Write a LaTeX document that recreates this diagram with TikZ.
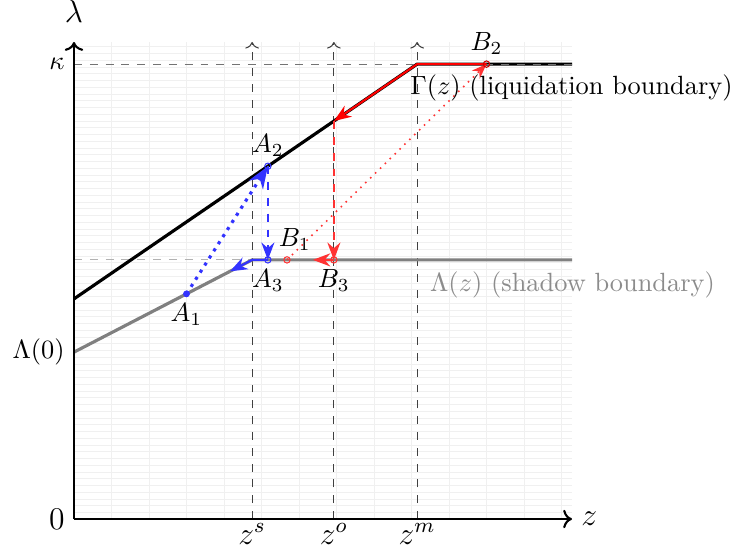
\documentclass[tikz,border=0pt]{standalone}
\usetikzlibrary{arrows.meta}

\begin{document}
\begin{tikzpicture}[x=0.5cm, y=0.5cm, >=Stealth]

  % 参数定义
  \def\zs{4.75}     % z^s
  \def\zo{6.93}     % z^o
  \def\zm{9.15}     % z^m
  \def\kap{12.13}   % kappa
  \def\Lam{6.91}    % 影子边界水平段
  \def\Lzero{4.45}  % Lambda(0)
  \def\Gzero{5.87}  % Gamma(0)
  \def\xmax{13.28}
  \def\ymax{12.72}
  \pgfmathsetmacro{\kG}{(\kap-\Gzero)/\zm}
  \pgfmathsetmacro{\kL}{(\Lam-\Lzero)/\zs}

  \useasboundingbox (-1.973,-0.827) rectangle (17.573,13.84);

  % 各点
  \coordinate (O) at (0,0);
  \coordinate (Xe) at (\xmax,0);
  \coordinate (Ye) at (0,\ymax);
  \coordinate (K0) at (0,\kap);
  \coordinate (K1) at (\xmax,\kap);
  \coordinate (L0) at (0,\Lzero);
  \coordinate (G0) at (0,\Gzero);
  \coordinate (Ls) at (0,\Lam);
  \coordinate (Ks) at (\zs,\Lam);
  \coordinate (Km) at (\zm,\kap);
  \coordinate (Le) at (\xmax,\Lam);
  \coordinate (A1) at (3,{\Lzero+\kL*3});
  \coordinate (A2) at (5.17,{\Gzero+\kG*5.17});
  \coordinate (A3) at (5.17,\Lam);
  \coordinate (A4) at (4.16,{\Lzero+\kL*4.16});
  \coordinate (B1) at (5.68,\Lam);
  \coordinate (B2) at (11,\kap);
  \coordinate (B3) at (\zo,\Lam);
  \coordinate (B4) at (6.37,\Lam);
  \coordinate (Go) at (\zo,{\Gzero+\kG*\zo});

  % 1. 网格
  \draw[black!6, very thin, xstep=1, ystep=0.18] (0,0) grid (\xmax,\ymax);

  % 2. 虚线
  \foreach \z in {\zs,\zo,\zm}
    \draw[black!75, dashed, -To] (\z,0) -- (\z,\ymax);
  \draw[black!30, dashed] (Ls) -- (Ks);

  % 3. 边界
  \draw[black!50, very thick] (L0) -- (Ks) -- (Le);
  \draw[very thick] (G0) -- (Km) -- (K1);
  \draw[black!55, dashed] (K0) -- (K1);

  % 4. 蓝色路径
  \draw[blue!80, very thick, dotted, ->] (A1) -- (A2);
  \draw[blue!80, thick, dashed, ->] (A2) -- (A3);
  \draw[blue!80, thick, ->] (A3) -- (Ks) -- (A4);
  \fill[blue!80] (A1) circle (1.3pt);
  \draw[blue!80] (A2) circle (1.2pt) (A3) circle (1.2pt);

  % 5. 红色路径
  \draw[red!80, semithick, dotted, ->] (B1) -- (B2);
  \draw[red, thick, ->] (B2) -- (Km) -- (Go);
  \draw[red!80, thick, dashed, ->] (Go) -- (B3);
  \draw[red!80, thick, ->] (B3) -- (B4);
  \draw[red!80] (B1) circle (1.2pt) (B3) circle (1.2pt);
  \draw[red!80!black] (B2) circle (1.2pt);

  % 6. 坐标轴
  \draw[thick, -To] (O) -- (Xe);
  \draw[thick, -To] (O) -- (Ye);

  % 7. 标注
  \node[above=4pt] (lam) at (Ye) {\large $\lambda$};
  \node[right] (zz) at (Xe) {\large $z$};
  \node[left] (zero) at (O) {\large $0$};
  \node[left] (kap) at (K0) {$\kappa$};
  \node[left] (lz) at (L0) {$\Lambda(0)$};
  \node[below, inner sep=1.5pt] (lzs) at (\zs,0) {\large $z^s$};
  \node[below, inner sep=1.5pt] (lzo) at (\zo,0) {\large $z^o$};
  \node[below, inner sep=1.5pt] (lzm) at (\zm,0) {\large $z^m$};
  \node[below] (lA1) at (A1) {$A_1$};
  \node[above] (lA2) at (A2) {$A_2$};
  \node[below] (lA3) at (A3) {$A_3$};
  \node[above, xshift=3pt] (lB1) at (B1) {$B_1$};
  \node[above] (lB2) at (B2) {$B_2$};
  \node[below] (lB3) at (B3) {$B_3$};
  \node[right] (lG) at (8.72,11.49) {$\Gamma(z)$ (liquidation boundary)};
  \node[right, black!45] (lL) at (9.25,6.24) {$\Lambda(z)$ (shadow boundary)};

\end{tikzpicture}
\end{document}
